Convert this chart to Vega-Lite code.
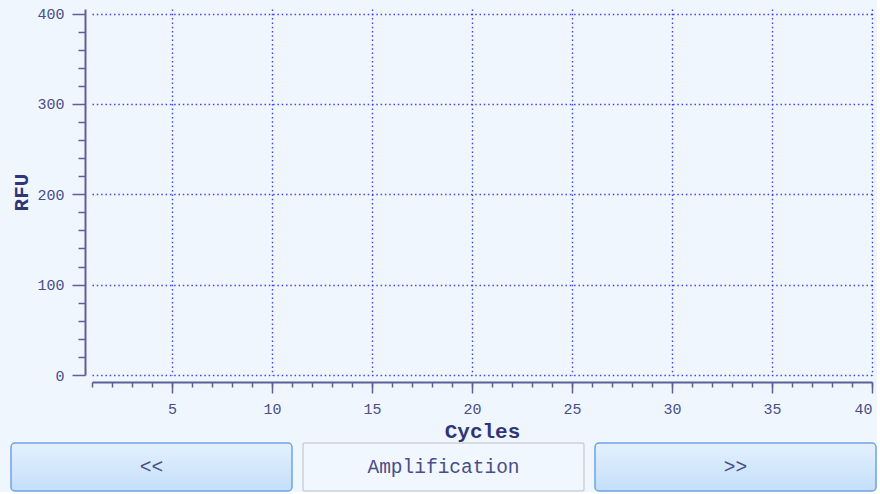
{
  "$schema": "https://vega.github.io/schema/vega-lite/v6.json",
  "background": "#EFF6FE",
  "padding": {"left": 10, "top": 6, "right": 0, "bottom": 0},
  "spacing": 0,
  "config": {
    "view": {"stroke": null},
    "font": "Liberation Mono",
    "axis": {
      "labelFont": "Liberation Mono",
      "labelFontSize": 15,
      "labelColor": "#4A4E86",
      "tickColor": "#5C6096",
      "domainColor": "#5C6096",
      "titleFont": "Liberation Mono",
      "titleColor": "#2F3576",
      "gridColor": "#3A3AF8",
      "gridDash": [1.5, 2.8],
      "gridWidth": 1.4,
      "gridOpacity": 0.95
    }
  },
  "vconcat": [
    {
      "spacing": -3,
      "hconcat": [
        {
          "width": 2,
          "height": 1,
          "data": {"values": []},
          "mark": {"type": "point", "opacity": 0, "size": 0}
        },
        {
          "width": 780,
          "height": 366,
          "data": {"values": [{"Cycles": 1, "RFU": 0}, {"Cycles": 40, "RFU": 400}]},
          "layer": [
            {
              "mark": {"type": "point", "opacity": 0},
              "encoding": {
                "x": {"field": "Cycles", "type": "quantitative", "scale": {"domain": [1, 40], "nice": false, "zero": false},
                  "axis": {"orient": "bottom", "offset": 7, "values": [1,2,3,4,5,6,7,8,9,10,11,12,13,14,15,16,17,18,19,20,21,22,23,24,25,26,27,28,29,30,31,32,33,34,35,36,37,38,39,40],
                    "tickSize": 5, "tickWidth": 1.5, "labels": false, "domain": false, "grid": false, "title": null}},
                "y": {"field": "RFU", "type": "quantitative", "scale": {"domain": [0, 405], "nice": false},
                  "axis": {"orient": "left", "offset": 7, "values": [20,40,60,80,120,140,160,180,220,240,260,280,320,340,360,380],
                    "tickSize": 7, "tickWidth": 1.5, "labels": false, "domain": false, "grid": false, "title": null}}
              }
            },
            {
              "mark": {"type": "point", "opacity": 0},
              "encoding": {
                "x": {"field": "Cycles", "type": "quantitative",
                  "axis": {"orient": "bottom", "offset": 7, "values": [5,10,15,20,25,30,35,40],
                    "tickSize": 11, "tickWidth": 1.5, "domainWidth": 2, "labelPadding": 8.5, "grid": true,
                    "title": "Cycles", "titleFontSize": 21, "titleFontWeight": "bold", "titlePadding": 4}},
                "y": {"field": "RFU", "type": "quantitative",
                  "axis": {"orient": "left", "offset": 7, "values": [0,100,200,300,400],
                    "tickSize": 13, "tickWidth": 1.5, "domainWidth": 2, "labelPadding": 8, "grid": true,
                    "title": "RFU", "titleFontSize": 21, "titleFontWeight": "bold", "titlePadding": 5}}
              }
            }
          ],
          "resolve": {"axis": {"x": "independent", "y": "independent"}}
        }
      ]
    },
    {
      "width": 865,
      "height": 48,
      "data": {"values": [{"button": "<<"}, {"button": "Amplification"}, {"button": ">>"}]},
      "encoding": {
        "x": {"field": "button", "type": "nominal",
          "scale": {"domain": ["<<", "Amplification", ">>"], "paddingInner": 0.0377, "paddingOuter": 0},
          "axis": null}
      },
      "layer": [
        {
          "transform": [{"filter": "datum.button !== 'Amplification'"}],
          "mark": {"type": "rect", "cornerRadius": 4, "stroke": "#6FA3E3", "strokeWidth": 1.5,
            "fill": {"gradient": "linear", "x1": 0, "y1": 0, "x2": 0, "y2": 1,
              "stops": [{"offset": 0, "color": "#E4F1FD"}, {"offset": 1, "color": "#C3DFFA"}]}}
        },
        {
          "transform": [{"filter": "datum.button === 'Amplification'"}],
          "mark": {"type": "rect", "cornerRadius": 2, "stroke": "#CDD2DA", "strokeWidth": 1.5, "fill": "#F1F7FE"}
        },
        {
          "mark": {"type": "text", "font": "Liberation Mono", "fontSize": 19.5, "color": "#4A4E86", "baseline": "middle"},
          "encoding": {"text": {"field": "button"}}
        }
      ]
    }
  ]
}
